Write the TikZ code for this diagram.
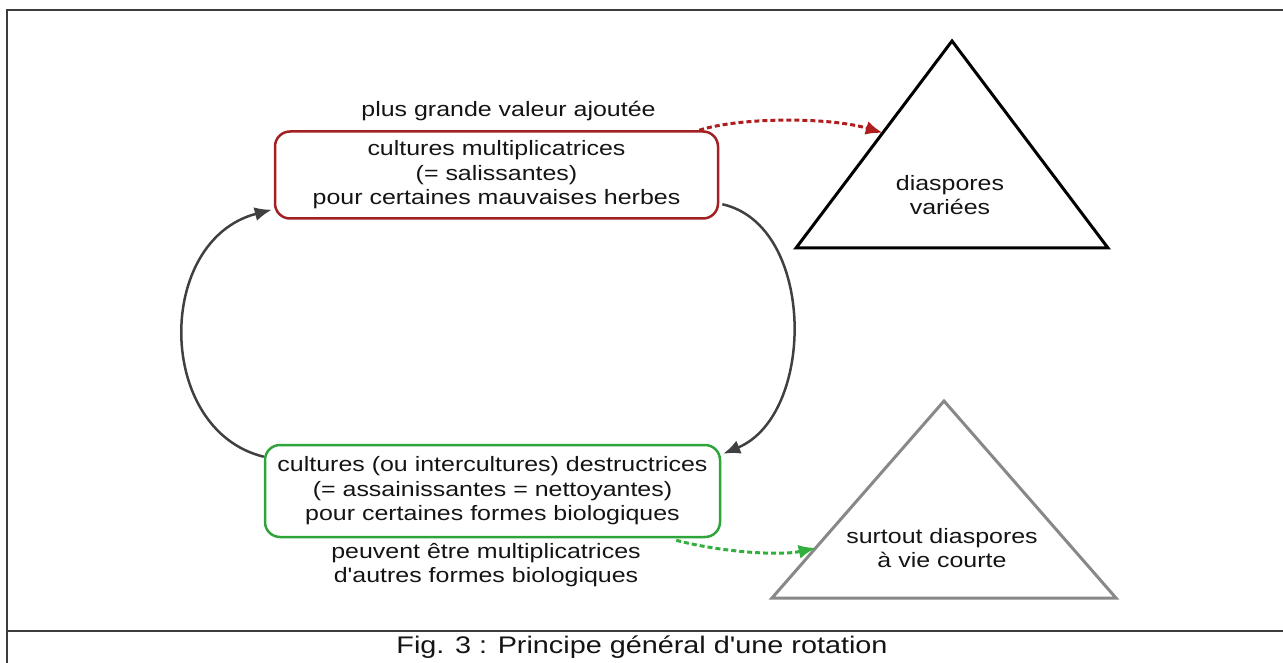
\documentclass[tikz,border=0pt]{standalone}
\usepackage{fontspec}
\setmainfont{Liberation Sans}[FakeStretch=1.2, Ligatures=TeXOff]
\usetikzlibrary{arrows.meta,calc}
\definecolor{framec}{RGB}{60,60,60}
\definecolor{redbox}{RGB}{160,32,36}
\definecolor{greenbox}{RGB}{46,164,58}
\definecolor{reddash}{RGB}{175,30,30}
\definecolor{greendash}{RGB}{50,175,60}
\definecolor{arrowc}{RGB}{64,64,64}
\definecolor{textc}{RGB}{20,20,20}
\definecolor{grayt}{RGB}{136,136,136}
\begin{document}
\begin{tikzpicture}[x=1pt,y=-1pt,
  txt/.style={font=\fontsize{20.8}{24.5}\selectfont, text=textc, align=center, inner sep=0pt},
  cropbox/.style={rounded corners=15pt, line width=2.5pt, minimum width=#1, align=center,
     font=\fontsize{20.8}{24.5}\selectfont, text=textc, inner sep=0pt},
  cycle arrow/.style={draw=arrowc, line width=2.5pt, -{Latex[length=17pt,width=14pt]}},
  dash arrow/.style={line width=3pt, dash pattern=on 5pt off 3pt},
  tri/.style={line width=3pt, line join=miter}]
\useasboundingbox (0,0) rectangle (1283,663);
% frame
\draw[framec, line width=2pt] (1295,10) -- (7,10) -- (7,675);
\draw[framec, line width=2pt] (7,631) -- (1295,631);
\node[txt, font=\fontsize{24}{28}\selectfont] (cap) at (642,647) {Fig. 3 : Principe général d'une rotation};

% boxes
\node[cropbox=443pt, draw=redbox, minimum height=87pt] (b1) at (496.5,175)
  {cultures multiplicatrices\\(= salissantes)\\pour certaines mauvaises herbes};
\node[cropbox=455pt, draw=greenbox, minimum height=92pt] (b2) at (492.5,491)
  {cultures (ou intercultures) destructrices\\(= assainissantes = nettoyantes)\\pour certaines formes biologiques};

\node[txt] (lab1) at (508.5,111) {plus grande valeur ajoutée};
\node[txt] (lab2) at (486,565) {peuvent être multiplicatrices\\d'autres formes biologiques};

% triangles
\coordinate (t1a) at (952,41);
\coordinate (t1l) at (796,248);
\coordinate (t1r) at (1108,248);
\draw[tri, black] (t1a) -- (t1l) -- (t1r) -- cycle;
\node[txt] (t1t) at (950,195) {diaspores\\variées};

\coordinate (t2a) at (944,401);
\coordinate (t2l) at (772,598);
\coordinate (t2r) at (1116,598);
\draw[tri, grayt] (t2a) -- (t2l) -- (t2r) -- cycle;
\node[txt] (t2t) at (942,548) {surtout diaspores\\à vie courte};

% connector end points
\coordinate (e1) at ($(t1l)!0.556!(t1a)$);
\coordinate (e2) at ($(t2l)!0.254!(t2a)$);
\coordinate (s1) at ($(b1.north east)+(-20,0)$);
\coordinate (s2) at ($(b2.south east)+(-45,2)$);
\coordinate (c1s) at ($(b2.north west)+(0,13)$);
\coordinate (c1e) at ($(b1.south west)+(-2,-10)$);
\coordinate (c2s) at ($(b1.north east)+(3,74)$);
\coordinate (c2e) at ($(b2.north east)+(2,10)$);

% cycle arrows
\draw[cycle arrow] (c1s) .. controls (155,430) and (155,240) .. (c1e);
\draw[cycle arrow] (c2s) .. controls (816,225) and (816,415) .. (c2e);

% dashed arrows
\draw[dash arrow, draw=reddash, -{Latex[length=17pt,width=14pt,fill=reddash]}] (s1) .. controls (740,117) and (830,117) .. (e1);
\draw[dash arrow, draw=greendash, -{Latex[length=17pt,width=14pt,fill=greendash]}] (s2) .. controls (720,552) and (780,556) .. (e2);
\end{tikzpicture}
\end{document}
